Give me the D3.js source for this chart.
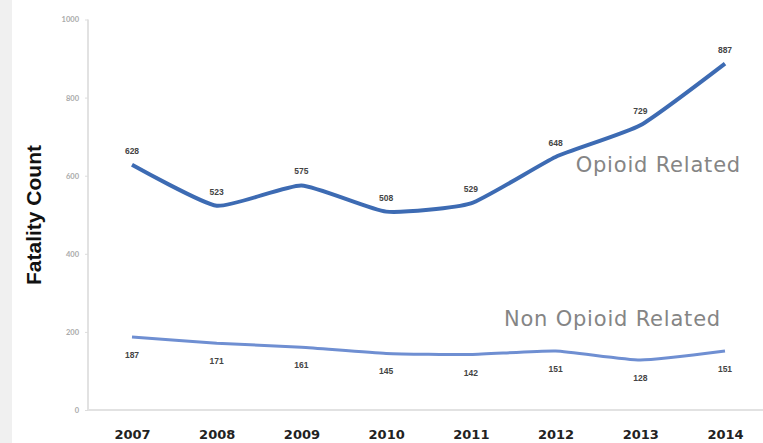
<!DOCTYPE html>
<html>
<head>
<meta charset="utf-8">
<script src="https://d3js.org/d3.v7.min.js"></script>
<style>
  html, body { margin: 0; padding: 0; background: #fff; }
  svg { display: block; }
</style>
</head>
<body>
<svg id="chart" width="763" height="443"></svg>
<script>
// Fatality counts by year
const years = ["2007", "2008", "2009", "2010", "2011", "2012", "2013", "2014"];
const opioid = [628, 523, 575, 508, 529, 648, 729, 887];
const nonOpioid = [187, 171, 161, 145, 142, 151, 128, 151];
const yTicks = [0, 200, 400, 600, 800, 1000];

const svg = d3.select("#chart");
const W = 763, H = 443;

// light strip along the left edge
svg.append("rect").attr("x", 0).attr("y", 0).attr("width", 12).attr("height", H).attr("fill", "#f0f0f0");

const x = d3.scalePoint().domain(years).range([132, 725]);
const y = d3.scaleLinear().domain([0, 1000]).range([410, 19.5]);

// axis lines
svg.append("line").attr("x1", 88).attr("x2", 88).attr("y1", y(1000)).attr("y2", y(0))
  .attr("stroke", "#e2e2e2").attr("stroke-width", 2);
svg.append("line").attr("x1", 88).attr("x2", W).attr("y1", y(0)).attr("y2", y(0))
  .attr("stroke", "#e2e2e2").attr("stroke-width", 2);

// y tick labels
const yAxis = d3.axisLeft(y).tickValues(yTicks).tickFormat(d3.format("d")).tickSize(3).tickPadding(6);
const gy = svg.append("g").attr("transform", "translate(88,0)").call(yAxis);
gy.select(".domain").remove();
gy.selectAll(".tick line").attr("stroke", "#ddd");
gy.selectAll(".tick text").attr("fill", "#aaa").attr("font-size", 7.5)
  .attr("font-family", "Lato, sans-serif").attr("font-weight", "bold");

// x tick labels
const xAxis = d3.axisBottom(x).tickSize(0).tickPadding(20);
const gx = svg.append("g").attr("transform", `translate(0,${y(0)})`).call(xAxis);
gx.select(".domain").remove();
gx.selectAll(".tick text").attr("fill", "#222").attr("font-size", 13)
  .attr("font-family", "DejaVu Sans, sans-serif").attr("font-weight", "bold");

// y axis title
svg.append("text")
  .attr("transform", `translate(41,215) rotate(-90)`)
  .attr("text-anchor", "middle")
  .attr("font-family", "Liberation Sans, Arial, sans-serif")
  .attr("font-weight", "bold").attr("font-size", 21).attr("fill", "#111")
  .text("Fatality Count");

const line = d3.line()
  .x((d, i) => x(years[i]))
  .y(d => y(d))
  .curve(d3.curveCardinal.tension(0.5));

svg.append("path").datum(nonOpioid).attr("d", line)
  .attr("fill", "none").attr("stroke", "#6f8fd2").attr("stroke-width", 3);
svg.append("path").datum(opioid).attr("d", line)
  .attr("fill", "none").attr("stroke", "#3d6bb3").attr("stroke-width", 4);

// value labels
function labels(data, dy) {
  svg.append("g").selectAll("text").data(data).join("text")
    .attr("x", (d, i) => x(years[i]))
    .attr("y", d => y(d) + dy)
    .attr("text-anchor", "middle")
    .attr("font-family", "Liberation Sans, Arial, sans-serif")
    .attr("font-weight", "bold")
    .attr("font-size", 8.5)
    .attr("fill", "#444")
    .text(d => d);
}
labels(opioid, -11);
labels(nonOpioid, 21);

// series names
const nameStyle = sel => sel.attr("text-anchor", "end")
  .attr("font-family", "DejaVu Sans, sans-serif").attr("font-size", 21)
  .attr("letter-spacing", 0.8).attr("fill", "#858585");
svg.append("text").attr("x", 741).attr("y", 172).call(nameStyle).text("Opioid Related");
svg.append("text").attr("x", 721).attr("y", 326).call(nameStyle).text("Non Opioid Related");
</script>
</body>
</html>
